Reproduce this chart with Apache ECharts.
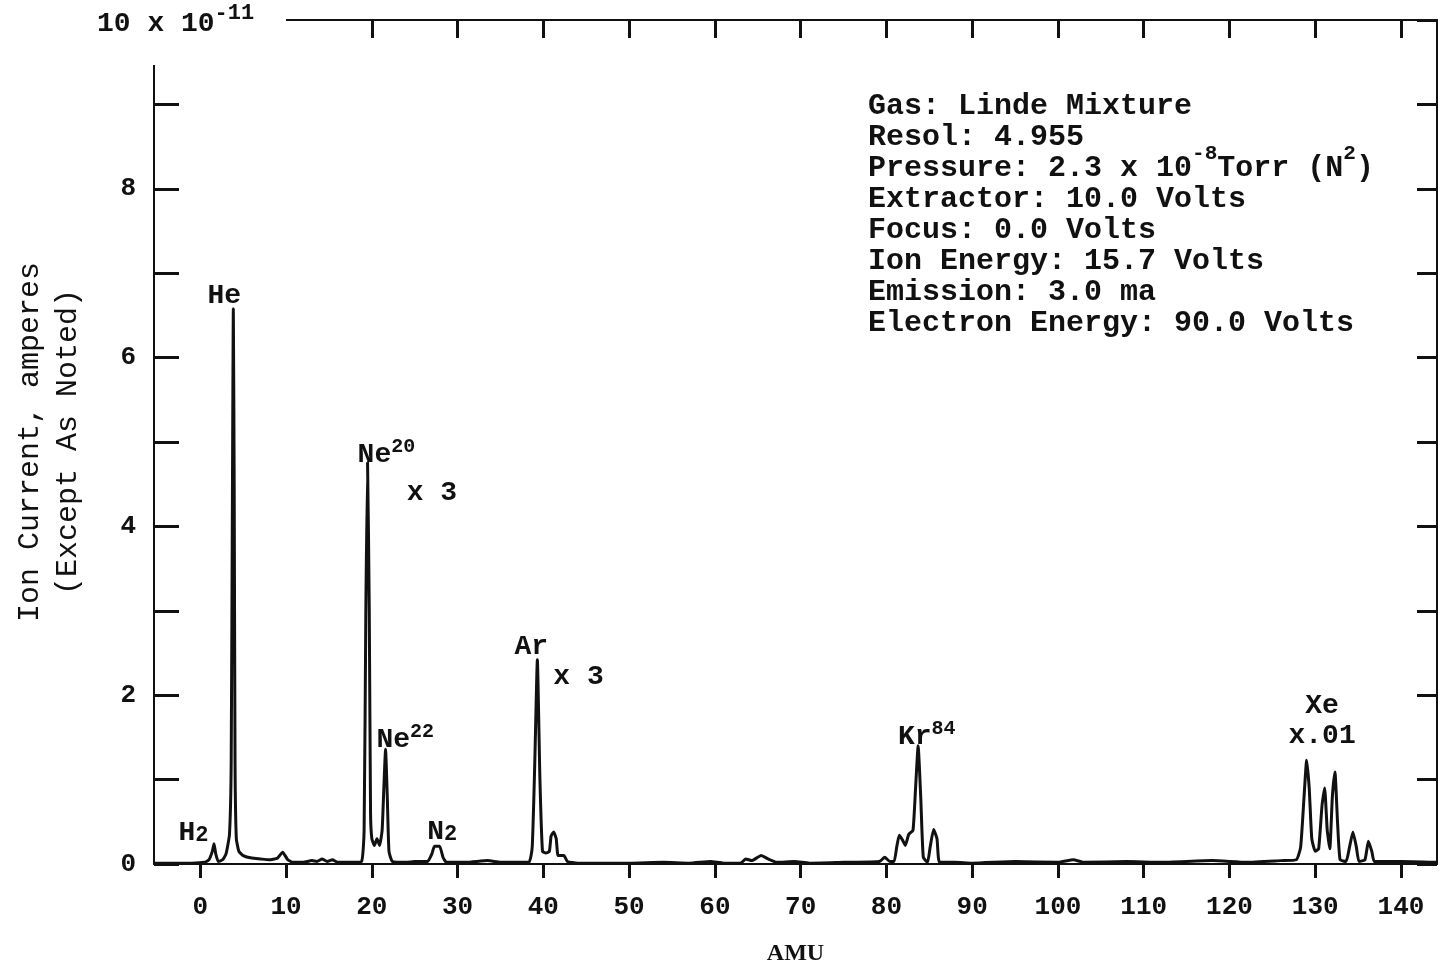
<!DOCTYPE html>
<html><head><meta charset="utf-8">
<script src="https://cdn.jsdelivr.net/npm/echarts@6/dist/echarts.min.js"></script>
<style>html,body{margin:0;padding:0;background:#fff;}#c{width:1441px;height:967px;}</style>
</head><body><div id="c"></div>
<script>
// ---- data ----
const amu = [-5.4,-3,-1,0.5,1.0,1.4,1.6,1.8,2.1,2.6,3.0,3.4,3.6,3.75,3.85,3.95,4.05,4.2,4.5,5.0,6.0,7.0,8.0,9.0,9.6,10.2,10.8,12.0,13.0,13.6,14.2,14.8,15.4,16.0,17.5,18.8,19.1,19.3,19.5,19.7,19.85,20.0,20.3,20.6,20.9,21.2,21.4,21.6,21.8,22.0,22.4,24.0,25.0,26.5,27.0,27.3,27.9,28.3,28.7,31,33.5,35,38.3,38.7,39.0,39.3,39.6,39.9,40.3,40.7,40.9,41.2,41.5,41.7,42.0,42.4,42.8,44,50,54,57,59.5,61,63,63.6,64.3,65.0,65.4,66.2,67.2,69.3,71,75,79.2,79.8,80.4,80.9,81.2,81.5,81.9,82.2,82.6,83.1,83.4,83.7,84.0,84.3,84.8,85.1,85.5,85.9,86.2,88,90,95,100,101.8,103,108,112,118,122,126,127.8,128.3,128.7,129.0,129.3,129.6,130.0,130.4,130.8,131.1,131.4,131.7,132.0,132.3,132.6,132.9,133.6,134.0,134.4,134.8,135.1,135.8,136.2,136.6,136.9,140,144.2];
const ionCurrent = [0.01,0.01,0.01,0.02,0.05,0.15,0.24,0.12,0.03,0.05,0.12,0.35,1.2,4.5,6.58,4.5,1.2,0.3,0.15,0.1,0.07,0.06,0.05,0.07,0.14,0.05,0.02,0.02,0.04,0.03,0.06,0.03,0.05,0.02,0.02,0.03,0.4,3.0,4.76,3.0,0.6,0.3,0.22,0.3,0.22,0.4,0.9,1.36,0.8,0.15,0.03,0.02,0.03,0.03,0.12,0.21,0.21,0.08,0.02,0.02,0.04,0.02,0.02,0.2,1.2,2.42,1.0,0.15,0.13,0.15,0.33,0.38,0.3,0.1,0.1,0.1,0.03,0.01,0.01,0.02,0.01,0.03,0.01,0.01,0.06,0.04,0.08,0.1,0.06,0.02,0.03,0.01,0.02,0.03,0.08,0.03,0.03,0.2,0.34,0.28,0.22,0.35,0.4,0.9,1.4,0.8,0.08,0.02,0.2,0.41,0.3,0.02,0.02,0.01,0.03,0.02,0.05,0.02,0.03,0.02,0.04,0.02,0.04,0.05,0.2,0.8,1.23,0.9,0.3,0.15,0.18,0.7,0.9,0.4,0.18,0.8,1.09,0.5,0.05,0.03,0.2,0.38,0.2,0.03,0.05,0.27,0.15,0.03,0.03,0.02];
const xTickValues = [0,10,20,30,40,50,60,70,80,90,100,110,120,130,140];
const xTopTickValues = [20,30,40,50,60,70,80,90,100,110,120,130,140];
const yLabelValues = [0,2,4,6,8];
const peakLabelText = ['He','Ne{sup|20}','x 3','Ne{sup|22}','N{sub|2}','H{sub|2}','Ar','x 3','Kr{sup|84}','Xe','x.01'];
const peakLabelAmu = [2.8,21.7,27.0,23.9,28.2,-0.8,38.6,44.1,84.7,130.8,130.8];
const peakLabelCurrent = [6.73,4.85,4.40,1.47,0.38,0.37,2.57,2.22,1.50,1.87,1.52];
const infoLines = ['Gas: Linde Mixture','Resol: 4.955','Pressure: 2.3 x 10{sup|-8}Torr (N{sup|2})','Extractor: 10.0 Volts','Focus: 0.0 Volts','Ion Energy: 15.7 Volts','Emission: 3.0 ma','Electron Energy: 90.0 Volts'];
const scaleText = '10 x 10{sup|-11}';

// ---- chart ----
const FONT = "'Liberation Mono', 'DejaVu Sans Mono', monospace";
const INK = '#111';
function richSet(supSize, raise) {
  return {
    sup: {fontSize: supSize, fontFamily: FONT, fontWeight: 'bold', color: INK, padding: [0,0,raise*2,0]},
    sub: {fontSize: supSize + 2, fontFamily: FONT, fontWeight: 'bold', color: INK, padding: [6,0,0,0]}
  };
}
const chart = echarts.init(document.getElementById('c'), null, {renderer: 'canvas'});
const traceData = amu.map((a, i) => [a, ionCurrent[i]]);
const labelData = peakLabelText.map((t, i) => ({name: t, value: [peakLabelAmu[i], peakLabelCurrent[i]]}));

const infoGraphics = infoLines.map((t, i) => ({
  type: 'text', x: 868, y: 106 + 31 * i, z: 100,
  style: {x: 0, y: 0, text: t, fontFamily: FONT, fontSize: 30, fontWeight: 'bold', fill: INK,
          align: 'left', verticalAlign: 'middle', rich: richSet(21, 14)}
}));

chart.setOption({
  animation: false,
  backgroundColor: '#fff',
  grid: {left: 154, right: 4, top: 20, bottom: 103, containLabel: false, outerBoundsMode: 'none'},
  xAxis: [{
    type: 'value', min: -5.4, max: 144.2, position: 'bottom',
    name: 'AMU', nameLocation: 'middle', nameGap: 78,
    nameTextStyle: {fontFamily: "'Liberation Serif', serif", fontWeight: 'bold', fontSize: 24, color: INK},
    axisLine: {onZero: false, lineStyle: {color: INK, width: 2}},
    axisTick: {show: true, inside: false, length: 14, lineStyle: {color: INK, width: 3}, customValues: xTickValues},
    axisLabel: {customValues: xTickValues, margin: 30, fontFamily: FONT, fontSize: 26, fontWeight: 'bold', color: INK},
    splitLine: {show: false}
  }, {
    type: 'value', min: -5.4, max: 144.2, position: 'top',
    axisLine: {onZero: false, lineStyle: {color: INK, width: 2}},
    axisTick: {show: true, inside: true, length: 18, lineStyle: {color: INK, width: 3}, customValues: xTopTickValues},
    axisLabel: {show: false},
    splitLine: {show: false}
  }],
  yAxis: [{
    type: 'value', min: 0, max: 10, interval: 1, position: 'left',
    name: 'Ion Current, amperes\n(Except As Noted)', nameLocation: 'middle', nameGap: 67, nameRotate: 90,
    nameTextStyle: {fontFamily: FONT, fontSize: 30, lineHeight: 38, color: INK, align: 'center'},
    axisLine: {onZero: false, lineStyle: {color: INK, width: 2}},
    axisTick: {inside: true, length: 25, lineStyle: {color: INK, width: 3}},
    axisLabel: {customValues: yLabelValues, margin: 18, fontFamily: FONT, fontSize: 26, fontWeight: 'bold', color: INK},
    splitLine: {show: false}
  }, {
    type: 'value', min: 0, max: 10, interval: 1, position: 'right',
    axisLine: {onZero: false, lineStyle: {color: INK, width: 2}},
    axisTick: {inside: true, length: 20, lineStyle: {color: INK, width: 3}},
    axisLabel: {show: false},
    splitLine: {show: false}
  }],
  series: [{
    type: 'line', data: traceData, showSymbol: false, symbol: 'none',
    lineStyle: {color: INK, width: 3}, smooth: 0.15, z: 5
  }, {
    type: 'scatter', data: labelData, symbolSize: 0, itemStyle: {color: INK, opacity: 0}, z: 6,
    label: {show: true, position: 'inside', formatter: p => p.name, opacity: 1,
            textBorderWidth: 0, textBorderColor: 'transparent',
            fontFamily: FONT, fontSize: 28, fontWeight: 'bold', color: INK, rich: richSet(20, 8)}
  }],
  graphic: {elements: [
    {type: 'rect', shape: {x: 140, y: 8, width: 146, height: 57}, style: {fill: '#fff'}, z: 90},
    {type: 'text', x: 97, y: 24, z: 100,
     style: {x: 0, y: 0, text: scaleText, fontFamily: FONT, fontSize: 28, fontWeight: 'bold', fill: INK,
             align: 'left', verticalAlign: 'middle', rich: richSet(22, 11)}}
  ].concat(infoGraphics)}
});
</script></body></html>
